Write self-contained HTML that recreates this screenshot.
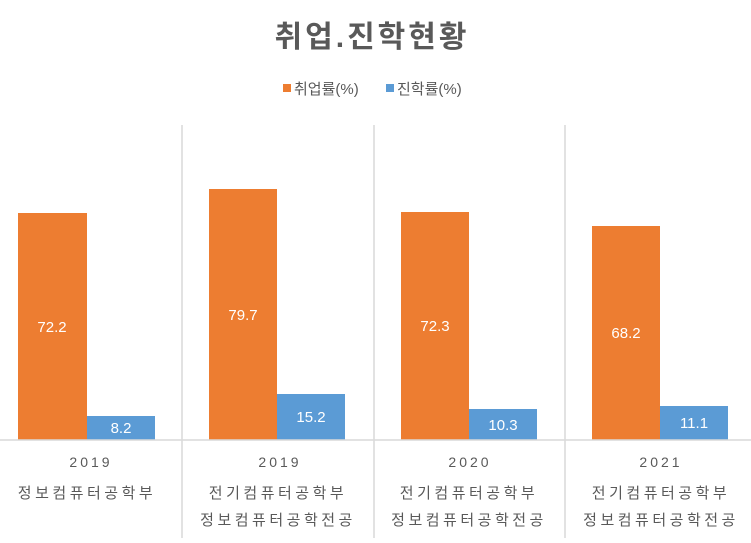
<!DOCTYPE html>
<html><head><meta charset="utf-8"><style>
body{margin:0;background:#fff;width:751px;height:538px;overflow:hidden}
text{font-family:"Liberation Sans","Noto Sans CJK KR",sans-serif}
</style></head><body>
<svg width="751" height="538" xmlns="http://www.w3.org/2000/svg">
<text x="372" y="47" text-anchor="middle" font-size="30" font-weight="bold" fill="#595959" letter-spacing="3">취업.진학현황</text>
<rect x="283" y="84" width="8" height="8" fill="#ED7D31"/>
<text x="294" y="94" font-size="15" fill="#595959">취업률(%)</text>
<rect x="386" y="84" width="8" height="8" fill="#5B9BD5"/>
<text x="397" y="94" font-size="15" fill="#595959">진학률(%)</text>
<g stroke="#d9d9d9" stroke-width="1.5">
<line x1="182" y1="125" x2="182" y2="538"/>
<line x1="374" y1="125" x2="374" y2="538"/>
<line x1="565" y1="125" x2="565" y2="538"/>
</g>
<g fill="#ED7D31">
<rect x="18" y="213" width="69" height="227"/>
<rect x="209" y="189" width="68" height="251"/>
<rect x="401" y="212" width="68" height="228"/>
<rect x="592" y="226" width="68" height="214"/>
</g>
<g fill="#5B9BD5">
<rect x="87" y="416" width="68" height="24"/>
<rect x="277" y="394" width="68" height="46"/>
<rect x="469" y="409" width="68" height="31"/>
<rect x="660" y="406" width="68" height="34"/>
</g>
<line x1="0" y1="440" x2="751" y2="440" stroke="#d9d9d9" stroke-width="1.5"/>
<g font-size="15" fill="#fff" text-anchor="middle">
<text x="52" y="332">72.2</text><text x="243" y="320">79.7</text>
<text x="435" y="331">72.3</text><text x="626" y="338">68.2</text>
<text x="121" y="433">8.2</text><text x="311" y="422">15.2</text>
<text x="503" y="430">10.3</text><text x="694" y="428">11.1</text>
</g>
<g font-size="14" fill="#595959" text-anchor="middle" letter-spacing="3">
<text x="91" y="467">2019</text><text x="280" y="467">2019</text>
<text x="470" y="467">2020</text><text x="661" y="467">2021</text>
</g>
<g font-size="15" fill="#595959" text-anchor="middle" letter-spacing="3.5">
<text x="87" y="498">정보컴퓨터공학부</text>
<text x="278" y="498">전기컴퓨터공학부</text>
<text x="278" y="525">정보컴퓨터공학전공</text>
<text x="469" y="498">전기컴퓨터공학부</text>
<text x="469" y="525">정보컴퓨터공학전공</text>
<text x="661" y="498">전기컴퓨터공학부</text>
<text x="661" y="525">정보컴퓨터공학전공</text>
</g>
</svg>
</body></html>
